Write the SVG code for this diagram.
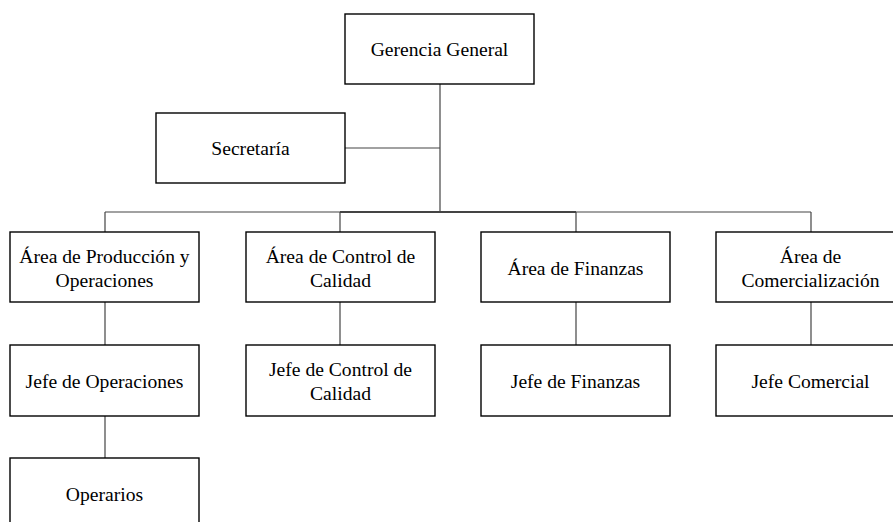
<svg xmlns="http://www.w3.org/2000/svg" width="893" height="522" viewBox="0 0 893 522">
<style>
.box{fill:#fff;stroke:#000;stroke-width:1.4}
.t{font-family:"Liberation Serif","Times New Roman",serif;font-size:19.6px;fill:#000;text-anchor:middle}
.c{stroke:#444;stroke-width:1.2;fill:none}
</style>
<rect width="893" height="522" fill="#fff"/>
<g id="connectors">
<line class="c" x1="440" y1="84" x2="440" y2="212"/>
<line class="c" x1="345" y1="148" x2="440" y2="148"/>
<line class="c" x1="105" y1="212" x2="811" y2="212"/>
<line x1="340" y1="212" x2="576" y2="212" stroke="#444" stroke-width="2.2"/>
<line class="c" x1="105" y1="212" x2="105" y2="232"/>
<line class="c" x1="340" y1="212" x2="340" y2="232"/>
<line class="c" x1="576" y1="212" x2="576" y2="232"/>
<line class="c" x1="811" y1="212" x2="811" y2="232"/>
<line class="c" x1="105" y1="302" x2="105" y2="345"/>
<line class="c" x1="340" y1="302" x2="340" y2="345"/>
<line class="c" x1="576" y1="302" x2="576" y2="345"/>
<line class="c" x1="811" y1="302" x2="811" y2="345"/>
<line class="c" x1="105" y1="416" x2="105" y2="458"/>
</g>
<g id="gerencia"><rect class="box" x="345" y="14" width="189" height="70"/><text class="t" x="439.5" y="56">Gerencia General</text></g>
<g id="secretaria"><rect class="box" x="156" y="113" width="189" height="70"/><text class="t" x="250.5" y="155">Secretaría</text></g>
<g id="area-produccion"><rect class="box" x="10" y="232" width="189" height="70"/><text class="t" x="104.5" y="263">Área de Producción y</text><text class="t" x="104.5" y="287">Operaciones</text></g>
<g id="area-calidad"><rect class="box" x="246" y="232" width="189" height="70"/><text class="t" x="340.5" y="263">Área de Control de</text><text class="t" x="340.5" y="287">Calidad</text></g>
<g id="area-finanzas"><rect class="box" x="481" y="232" width="189" height="70"/><text class="t" x="575.5" y="275">Área de Finanzas</text></g>
<g id="area-comercializacion"><rect class="box" x="716" y="232" width="189" height="70"/><text class="t" x="810.5" y="263">Área de</text><text class="t" x="810.5" y="287">Comercialización</text></g>
<g id="jefe-operaciones"><rect class="box" x="10" y="345" width="189" height="71"/><text class="t" x="104.5" y="388">Jefe de Operaciones</text></g>
<g id="jefe-calidad"><rect class="box" x="246" y="345" width="189" height="71"/><text class="t" x="340.5" y="376">Jefe de Control de</text><text class="t" x="340.5" y="400">Calidad</text></g>
<g id="jefe-finanzas"><rect class="box" x="481" y="345" width="189" height="71"/><text class="t" x="575.5" y="388">Jefe de Finanzas</text></g>
<g id="jefe-comercial"><rect class="box" x="716" y="345" width="189" height="71"/><text class="t" x="810.5" y="388">Jefe Comercial</text></g>
<g id="operarios"><rect class="box" x="10" y="458" width="189" height="70"/><text class="t" x="104.5" y="501">Operarios</text></g>
</svg>
